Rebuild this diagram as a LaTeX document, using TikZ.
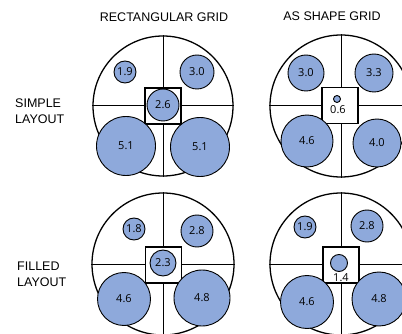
\documentclass[tikz,border=0pt]{standalone}
\usepackage{fontspec}
\setmainfont{Liberation Sans}
\newfontfamily\numfont{Open Sans}
\definecolor{cblue}{RGB}{142,169,219}
\begin{document}
\begin{tikzpicture}[x=1pt,y=-1pt,
  outer/.style={circle, draw, line width=1.3pt, inner sep=0pt},
  gridln/.style={line width=1pt},
  box/.style={draw, fill=white, line width=1.5pt, inner sep=0pt, minimum size=36pt},
  bub/.style={circle, draw, fill=cblue, line width=0.9pt, inner sep=0pt, font=\numfont\fontsize{11}{13}\selectfont},
  numlbl/.style={inner sep=0pt, font=\numfont\fontsize{11}{13}\selectfont},
  head/.style={inner sep=0pt, font=\fontsize{12.5}{15}\selectfont},
  rowlbl/.style={inner sep=0pt, align=left, anchor=west, font=\fontsize{12.5}{16}\selectfont}]
\useasboundingbox (0,0) rectangle (402,334);
\clip (0,0) rectangle (402,334);

% headers
\node[head] (h1) at (164,17) {RECTANGULAR GRID};
\node[head] (h2) at (332,16) {AS SHAPE GRID};
\node[rowlbl] (r1) at (15,111) {SIMPLE\\LAYOUT};
\node[rowlbl] (r2) at (17,274) {FILLED\\LAYOUT};

% ---- top left
\node[outer, minimum size=140pt] (C1) at (163,106) {};
\draw[gridln] (C1.north) -- (C1.south);
\draw[gridln] (C1.west) -- (C1.east);
\node[box] (S1) at (163,106) {};
\node[bub, minimum size=22pt] (a1) at (125,72) {1.9};
\node[bub, minimum size=34pt] (a2) at (197,72) {3.0};
\node[bub, minimum size=32pt] (a3) at (163,105) {2.6};
\node[bub, minimum size=59pt] (a4) at (126,146) {5.1};
\node[bub, minimum size=59pt] (a5) at (200,147) {5.1};

% ---- top right
\node[outer, minimum size=142pt] (C2) at (341,106) {};
\draw[gridln] (C2.north) -- (C2.south);
\draw[gridln] (C2.west) -- (C2.east);
\node[box] (S2) at (340,105.5) {};
\node[bub, minimum size=7pt] (b0) at (337,99) {};
\node[numlbl] (b0l) at (338,110) {0.6};
\node[bub, minimum size=36pt] (b1) at (306,73) {3.0};
\node[bub, minimum size=38pt] (b2) at (374,73) {3.3};
\node[bub, minimum size=52pt] (b3) at (307,141) {4.6};
\node[bub, minimum size=48pt] (b4) at (377,143) {4.0};

% ---- bottom left
\node[outer, minimum size=142pt] (C3) at (163,264) {};
\draw[gridln] (C3.north) -- (C3.south);
\draw[gridln] (C3.west) -- (C3.east);
\node[box] (S3) at (163.5,265) {};
\node[bub, minimum size=22pt] (c1) at (134,229) {1.8};
\node[bub, minimum size=32pt] (c2) at (197,231) {2.8};
\node[bub, minimum size=26pt] (c3) at (163,263) {2.3};
\node[bub, minimum size=53pt] (c4) at (124,299) {4.6};
\node[bub, minimum size=56pt] (c5) at (202,298) {4.8};

% ---- bottom right
\node[outer, minimum size=142pt] (C4) at (341,264) {};
\draw[gridln] (C4.north) -- (C4.south);
\draw[gridln] (C4.west) -- (C4.east);
\node[box] (S4) at (341,265) {};
\node[bub, minimum size=17pt] (d0) at (339,263) {};
\node[numlbl] (d0l) at (341,277.5) {1.4};
\node[bub, minimum size=22pt] (d1) at (305,227) {1.9};
\node[bub, minimum size=32pt] (d2) at (367,226) {2.8};
\node[bub, minimum size=53pt] (d3) at (307,302) {4.6};
\node[bub, minimum size=54pt] (d4) at (379,299) {4.8};
\end{tikzpicture}
\end{document}
